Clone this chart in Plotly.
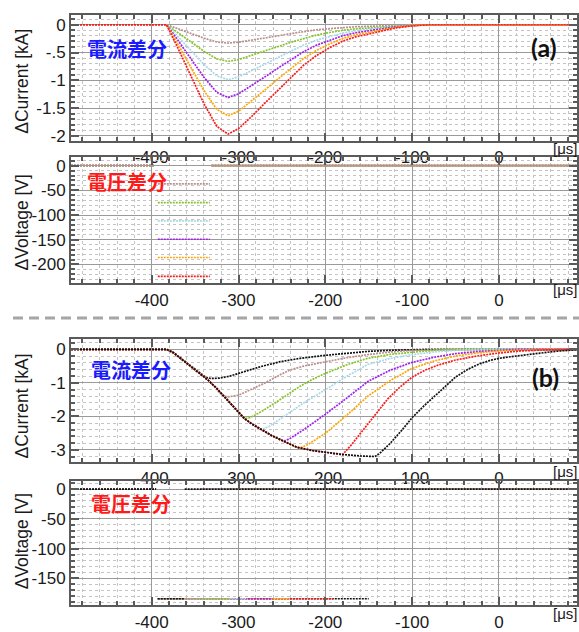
import plotly.graph_objects as go

# ---------------- data ----------------
X_TICKS = [-400, -300, -200, -100, 0]
X_TICK_TEXT = ["-400", "-300", "-200", "-100", "0"]

SERIES_A = ["brown", "green", "blue", "purple", "orange", "red"]
COLORS_A = ["#bc8f8f", "#86c52a", "#a8d8ea", "#a020f0", "#ffa500", "#ff1a1a"]

# (a) current difference [kA]
A_X = [-493, -383, -370, -355, -340, -325, -312, -300, -285, -270, -255, -240,
       -225, -210, -195, -180, -165, -150, -135, -120, -100, -80, 90]
A_BROWN = [0, 0, -0.07, -0.155, -0.24, -0.31, -0.33, -0.315, -0.28, -0.24, -0.20, -0.16,
           -0.12, -0.09, -0.07, -0.05, -0.035, -0.028, -0.018, -0.01, -0.003, 0, 0]
A_GREEN = [0, 0, -0.139, -0.31, -0.475, -0.614, -0.66, -0.627, -0.554, -0.475, -0.396, -0.317,
           -0.244, -0.185, -0.139, -0.099, -0.073, -0.056, -0.036, -0.02, -0.007, 0, 0]
A_BLUE = [0, 0, -0.208, -0.465, -0.713, -0.921, -0.99, -0.94, -0.832, -0.713, -0.594, -0.475,
          -0.366, -0.277, -0.208, -0.149, -0.109, -0.084, -0.054, -0.03, -0.01, 0, 0]
A_PURPLE = [0, 0, -0.275, -0.616, -0.943, -1.218, -1.31, -1.245, -1.10, -0.943, -0.786, -0.629,
            -0.485, -0.367, -0.275, -0.197, -0.144, -0.111, -0.072, -0.039, -0.013, 0, 0]
A_ORANGE = [0, 0, -0.344, -0.771, -1.181, -1.525, -1.64, -1.558, -1.378, -1.181, -0.984, -0.787,
            -0.607, -0.459, -0.344, -0.246, -0.18, -0.139, -0.09, -0.049, -0.016, 0, 0]
A_RED = [0, 0, -0.414, -0.926, -1.418, -1.832, -1.97, -1.872, -1.655, -1.418, -1.182, -0.946,
         -0.729, -0.552, -0.414, -0.296, -0.217, -0.167, -0.108, -0.059, -0.02, 0, 0]
A_CURRENTS = [A_BROWN, A_GREEN, A_BLUE, A_PURPLE, A_ORANGE, A_RED]

# (a) voltage difference [V]: pulse levels, common pulse window
A_V_LEVELS = [-37, -75, -112, -149, -186, -224]
A_PULSE_START = -393
A_PULSE_END = -333

# (b) shared falling envelope [kA]
ENV_X = [-493, -383, -375, -365, -355, -345, -335, -325, -315, -305, -293, -285,
         -275, -262, -249, -233, -215, -200, -180, -160, -143]
ENV_Y = [0, 0, -0.10, -0.30, -0.50, -0.70, -0.92, -1.17, -1.45, -1.73, -2.07, -2.22,
         -2.38, -2.57, -2.73, -2.92, -3.02, -3.08, -3.14, -3.18, -3.20]

SERIES_B = ["black1", "brown", "green", "blue", "purple", "orange", "red", "black2"]
COLORS_B = ["#111111", "#bc8f8f", "#86c52a", "#a8d8ea", "#a020f0", "#ffa500", "#ff1a1a", "#111111"]

# (b) per-series recovery tails (after leaving the envelope)
T_BLACK1_X = [-345, -338, -332, -322, -310, -300, -287, -275, -252, -229, -200, -175, -150, -125, -100, -80, 90]
T_BLACK1_Y = [-0.70, -0.83, -0.87, -0.86, -0.80, -0.72, -0.62, -0.52, -0.37, -0.27, -0.18, -0.11, -0.06, -0.03, -0.01, 0, 0]
T_BROWN_X = [-328, -322, -317, -312, -300, -285, -270, -252, -241, -225, -200, -175, -151, -125, -100, -75, -50, 90]
T_BROWN_Y = [-1.09, -1.30, -1.40, -1.42, -1.37, -1.20, -1.01, -0.76, -0.62, -0.50, -0.37, -0.25, -0.16, -0.08, -0.03, -0.01, 0, 0]
T_GREEN_X = [-300, -296, -292, -287, -280, -270, -252, -240, -229, -215, -200, -175, -151, -125, -100, -75, -50, 90]
T_GREEN_Y = [-1.87, -2.00, -2.06, -2.04, -1.95, -1.80, -1.50, -1.30, -1.10, -0.90, -0.72, -0.46, -0.27, -0.15, -0.08, -0.03, 0, 0]
T_BLUE_X = [-280, -276, -272, -265, -252, -240, -225, -200, -175, -151, -125, -100, -75, -50, -25, 90]
T_BLUE_Y = [-2.30, -2.37, -2.38, -2.30, -2.08, -1.87, -1.60, -1.21, -0.80, -0.45, -0.27, -0.16, -0.08, -0.03, 0, 0]
T_PURPLE_X = [-255, -250, -246, -240, -225, -200, -175, -151, -125, -100, -75, -50, -25, 0, 25, 90]
T_PURPLE_Y = [-2.66, -2.72, -2.73, -2.65, -2.40, -1.94, -1.45, -0.96, -0.62, -0.39, -0.24, -0.13, -0.07, -0.03, 0, 0]
T_ORANGE_X = [-238, -232, -228, -220, -200, -175, -151, -125, -100, -75, -50, -25, 0, 25, 50, 90]
T_ORANGE_Y = [-2.87, -2.93, -2.93, -2.84, -2.51, -1.96, -1.40, -0.93, -0.57, -0.35, -0.20, -0.11, -0.05, -0.02, 0, 0]
T_RED_X = [-180, -170, -160, -150, -140, -128, -115, -100, -85, -70, -50, -25, 0, 25, 50, 70, 90]
T_RED_Y = [-3.14, -2.85, -2.52, -2.18, -1.85, -1.48, -1.15, -0.83, -0.62, -0.47, -0.32, -0.20, -0.11, -0.05, -0.02, 0, 0]
T_BLACK2_X = [-143, -138, -132, -125, -112, -100, -86, -72, -60, -50, -36, -22, -10, 0, 20, 43, 65, 90]
T_BLACK2_Y = [-3.20, -3.12, -2.98, -2.80, -2.42, -2.04, -1.68, -1.35, -1.05, -0.83, -0.60, -0.43, -0.33, -0.27, -0.20, -0.13, -0.06, -0.01]
TAILS_X = [T_BLACK1_X, T_BROWN_X, T_GREEN_X, T_BLUE_X, T_PURPLE_X, T_ORANGE_X, T_RED_X, T_BLACK2_X]
TAILS_Y = [T_BLACK1_Y, T_BROWN_Y, T_GREEN_Y, T_BLUE_Y, T_PURPLE_Y, T_ORANGE_Y, T_RED_Y, T_BLACK2_Y]

# (b) voltage difference [V]
B_V_LEVEL = -184
B_PULSE_START = -393
B_PULSE_END = [-362, -343, -311, -291, -261, -241, -191, -150]

X_MIN, X_MAX = -493, 90

# ---------------- figure ----------------
W, H = 579, 632
fig = go.Figure()

LINE_DASH = "2px,1px"
LW = 1.7

# (a) current
for name, col, ys in zip(SERIES_A, COLORS_A, A_CURRENTS):
    fig.add_trace(go.Scatter(x=A_X, y=ys, mode="lines", name=name,
                             line=dict(color=col, width=LW, dash=LINE_DASH),
                             xaxis="x", yaxis="y", showlegend=False))

# (a) voltage (drawn in reverse so that brown ends on top)
for name, col, lev in reversed(list(zip(SERIES_A, COLORS_A, A_V_LEVELS))):
    xs = [X_MIN, A_PULSE_START - 4, None, A_PULSE_START, A_PULSE_END, None, A_PULSE_END + 2, X_MAX]
    ys = [0, 0, None, lev, lev, None, 0, 0]
    fig.add_trace(go.Scatter(x=xs, y=ys, mode="lines", name=name, connectgaps=False,
                             line=dict(color=col, width=LW, dash=LINE_DASH),
                             xaxis="x2", yaxis="y2", showlegend=False))

# (b) current
for name, col, tx, ty in zip(SERIES_B, COLORS_B, TAILS_X, TAILS_Y):
    xs = [x for x in ENV_X if x < tx[0]] + tx
    ys = [y for x, y in zip(ENV_X, ENV_Y) if x < tx[0]] + ty
    fig.add_trace(go.Scatter(x=xs, y=ys, mode="lines", name=name,
                             line=dict(color=col, width=LW, dash=LINE_DASH),
                             xaxis="x3", yaxis="y3", showlegend=False))

# (b) voltage (reverse order: shorter pulses on top)
for name, col, end in reversed(list(zip(SERIES_B, COLORS_B, B_PULSE_END))):
    xs = [X_MIN, B_PULSE_START - 2, None, B_PULSE_START, end, None, end, X_MAX]
    ys = [0, 0, None, B_V_LEVEL, B_V_LEVEL, None, 0, 0]
    fig.add_trace(go.Scatter(x=xs, y=ys, mode="lines", name=name, connectgaps=False,
                             line=dict(color=col, width=LW, dash=LINE_DASH),
                             xaxis="x4", yaxis="y4", showlegend=False))

# ---------------- axes ----------------
def yd(top, bottom):
    return [1 - bottom / H, 1 - top / H]

XDOM = [71 / W, 577 / W]
PANELS = [(14, 142), (158, 287), (343, 468), (488, 614)]
TICKFONT = dict(family="Liberation Sans, Arial, sans-serif", size=17, color="#1a1a1a")
AXC = "#5a5a5a"

def xaxis_cfg(anchor):
    return dict(domain=XDOM, anchor=anchor, range=[X_MIN, X_MAX],
                tickmode="array", tickvals=X_TICKS, ticktext=X_TICK_TEXT,
                ticks="inside", ticklen=8, tickwidth=1.5, tickcolor=AXC,
                showline=True, linecolor=AXC, linewidth=2, mirror="allticks",
                showgrid=True, gridcolor="#9a9a9a", gridwidth=1, zeroline=False,
                tickfont=TICKFONT,
                minor=dict(tickmode="linear", tick0=0, dtick=20, ticks="inside", ticklen=4,
                           tickcolor=AXC, showgrid=True, gridcolor="#c4c4c4",
                           griddash="dot", gridwidth=1))

def yaxis_cfg(anchor, dom, rng, tv, tt, mdt):
    return dict(domain=dom, anchor=anchor, range=rng,
                tickmode="array", tickvals=tv, ticktext=tt,
                ticks="inside", ticklen=8, tickwidth=1.5, tickcolor=AXC,
                showline=True, linecolor=AXC, linewidth=2, mirror="allticks",
                showgrid=True, gridcolor="#9a9a9a", gridwidth=1, zeroline=False,
                tickfont=TICKFONT,
                minor=dict(tickmode="linear", tick0=0, dtick=mdt, ticks="inside", ticklen=4,
                           tickcolor=AXC, showgrid=True, gridcolor="#c4c4c4",
                           griddash="dot", gridwidth=1))

fig.update_layout(
    width=W, height=H, margin=dict(l=0, r=0, t=0, b=0),
    paper_bgcolor="white", plot_bgcolor="white",
    xaxis=xaxis_cfg("y"), xaxis2=xaxis_cfg("y2"), xaxis3=xaxis_cfg("y3"), xaxis4=xaxis_cfg("y4"),
    yaxis=yaxis_cfg("x", yd(*PANELS[0]), [-2.09, 0.18], [0, -0.5, -1, -1.5, -2],
                    ["0", "-.5", "-1", "-1.5", "-2"], 0.1),
    yaxis2=yaxis_cfg("x2", yd(*PANELS[1]), [-238.5, 18.5], [0, -50, -100, -150, -200],
                     ["0", "-50", "-100", "-150", "-200"], 10),
    yaxis3=yaxis_cfg("x3", yd(*PANELS[2]), [-3.35, 0.32], [0, -1, -2, -3],
                     ["0", "-1", "-2", "-3"], 0.2),
    yaxis4=yaxis_cfg("x4", yd(*PANELS[3]), [-195, 13], [0, -50, -100, -150],
                     ["0", "-50", "-100", "-150"], 10),
)

# ---------------- annotations ----------------
def ann(text, xp, yp, size, color, family, bold=False, angle=0, xanchor="center"):
    t = f"<b>{text}</b>" if bold else text
    fig.add_annotation(text=t, x=xp / W, y=1 - yp / H, xref="paper", yref="paper",
                       showarrow=False, textangle=angle, xanchor=xanchor, yanchor="middle",
                       borderpad=0,
                       font=dict(size=size, color=color, family=family))

SANS = "Liberation Sans, Arial, sans-serif"
CJK = "Noto Sans CJK JP"
ann("ΔCurrent [kA]", 22, 82, 17.5, "#1a1a1a", SANS, angle=-90)
ann("ΔVoltage [V]", 22, 225, 17.5, "#1a1a1a", SANS, angle=-90)
ann("ΔCurrent [kA]", 22, 412, 17.5, "#1a1a1a", SANS, angle=-90)
ann("ΔVoltage [V]", 22, 549, 17.5, "#1a1a1a", SANS, angle=-90)

ann("電流差分", 127, 48, 20, "#1a1aff", CJK, bold=True)
ann("電圧差分", 127, 183, 20, "#ff1a1a", CJK, bold=True)
ann("電流差分", 131, 374, 20, "#1a1aff", CJK, bold=True)
ann("電圧差分", 131, 511, 20, "#ff1a1a", CJK, bold=True)

ann("(a)", 544, 47, 25, "#111111", "Lato, sans-serif", bold=True)
ann("(b)", 545, 382, 25, "#111111", "Lato, sans-serif", bold=True)

for yp in [150, 293, 478, 622]:
    ann("[μs]", 565, yp, 15, "#1a1a1a", SANS)

# separator
fig.add_shape(type="line", xref="paper", yref="paper", x0=13 / W, x1=1.0,
              y0=1 - 322 / H, y1=1 - 322 / H,
              line=dict(color="#a6a6a6", width=3, dash="10px,6px"))

fig.write_html("out.html", config={"displayModeBar": False},
               post_script="document.body.style.margin='0';document.body.style.overflow='hidden';")
